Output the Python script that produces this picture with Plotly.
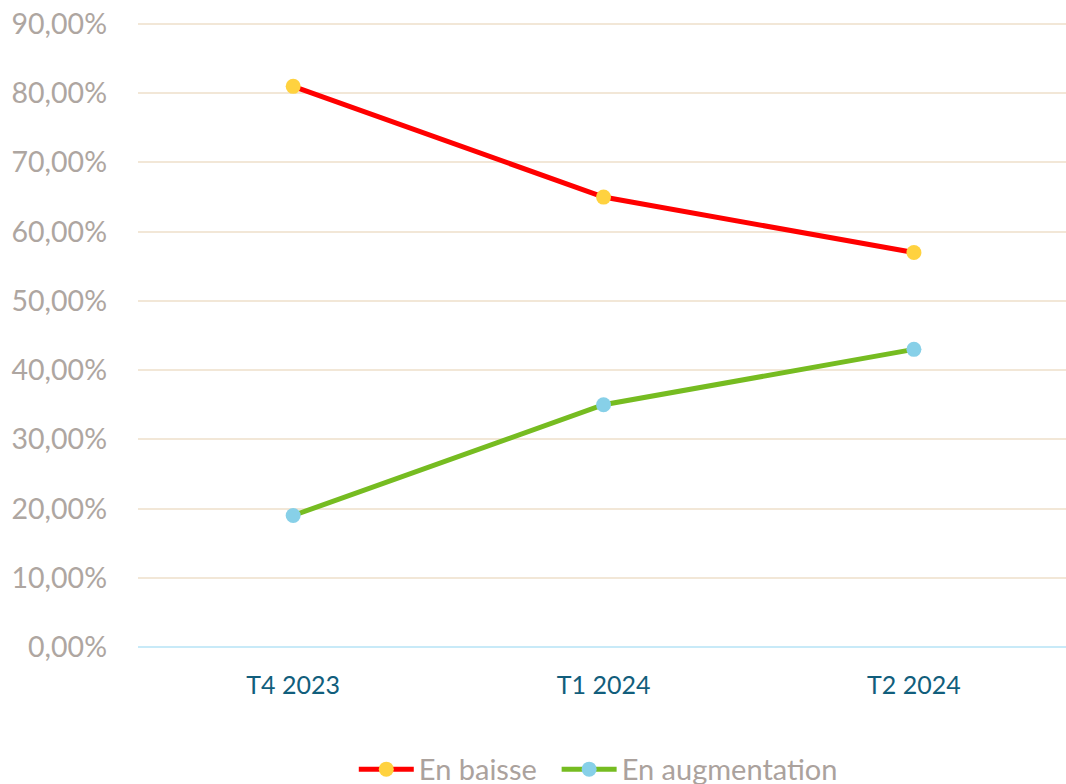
import plotly.graph_objects as go

categories = ["T4 2023", "T1 2024", "T2 2024"]
en_baisse = [81, 65, 57]
en_augmentation = [19, 35, 43]
y_ticks = [0, 10, 20, 30, 40, 50, 60, 70, 80, 90]
y_labels = ["0,00%", "10,00%", "20,00%", "30,00%", "40,00%", "50,00%", "60,00%", "70,00%", "80,00%", "90,00%"]

fig = go.Figure()
fig.add_trace(go.Scatter(
    x=categories, y=en_baisse, name="En baisse\u00a0\u00a0", mode="lines+markers",
    line=dict(color="#FF0000", width=5),
    marker=dict(color="#FFD23F", size=15),
))
fig.add_trace(go.Scatter(
    x=categories, y=en_augmentation, name="En augmentation", mode="lines+markers",
    line=dict(color="#76BC21", width=5),
    marker=dict(color="#87D0E8", size=15),
))

fig.update_layout(
    width=1066, height=784,
    margin=dict(l=138, r=0, t=23, b=137, autoexpand=False),
    paper_bgcolor="white", plot_bgcolor="white",
    showlegend=True,
    legend=dict(orientation="h", x=0.496, xanchor="center", y=-0.196, yanchor="middle",
                font=dict(family="Lato, Open Sans, sans-serif", size=29, color="#ABA29D"),
                itemwidth=55, tracegroupgap=0),
    xaxis=dict(
        range=[-0.5, 2.49],
        showgrid=False, showline=False, zeroline=False, ticks="",
        tickfont=dict(family="Lato, sans-serif", size=25, color="#115E7C"),
        ticklabelstandoff=21,
    ),
    yaxis=dict(
        range=[0, 90.15], tickvals=y_ticks, ticktext=y_labels,
        showgrid=True, gridcolor="#F2E7D7", gridwidth=1.5,
        zeroline=True, zerolinecolor="#C8EAF8", zerolinewidth=2,
        showline=False, ticks="",
        tickfont=dict(family="Lato, Open Sans, sans-serif", size=28.5, color="#AEA6A1"),
        ticklabelstandoff=30,
    ),
)

fig.write_html("out.html", config={"displayModeBar": False},
               post_script="document.body.style.margin='0';")
